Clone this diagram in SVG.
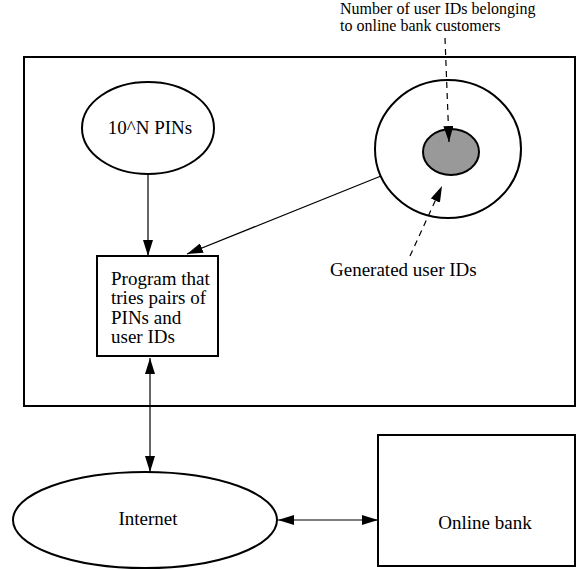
<svg xmlns="http://www.w3.org/2000/svg" width="577" height="570" viewBox="0 0 577 570">
  <style>
    .shape { fill: #fff; stroke: #000; stroke-width: 2; }
    .label { font-family: "Liberation Serif", "Times New Roman", serif; font-size: 19px; fill: #000; }
    .note { font-size: 16px; }
    .mid { text-anchor: middle; }
    .edge { fill: none; stroke: #000; stroke-width: 1.2; }
    .dash { stroke-dasharray: 6 5; }
  </style>
  <defs>
    <marker id="arrow" viewBox="0 0 16 10" refX="16" refY="5" markerWidth="16" markerHeight="10" markerUnits="userSpaceOnUse" orient="auto-start-reverse">
      <path d="M0,0 L16,5 L0,10 Z" fill="#000"/>
    </marker>
  </defs>

  <!-- attacker's machine -->
  <g id="attacker">
    <rect class="shape" x="24" y="57" width="551" height="349"/>
  </g>

  <g id="pins">
    <ellipse class="shape" cx="148" cy="128" rx="66" ry="46"/>
    <text class="label mid" x="150" y="134">10^N PINs</text>
  </g>

  <g id="generated-ids">
    <ellipse class="shape" cx="448" cy="149" rx="73" ry="69"/>
  </g>

  <g id="customer-ids">
    <ellipse cx="451" cy="152" rx="28" ry="23" fill="#999" stroke="#000" stroke-width="2"/>
  </g>

  <g id="program">
    <rect class="shape" x="97" y="256" width="121" height="100"/>
    <text class="label" x="111" y="285">Program that</text>
    <text class="label" x="111" y="304">tries pairs of</text>
    <text class="label" x="111" y="324">PINs and</text>
    <text class="label" x="111" y="343">user IDs</text>
  </g>

  <g id="internet">
    <ellipse class="shape" cx="145" cy="520" rx="132" ry="48"/>
    <text class="label mid" x="148" y="525">Internet</text>
  </g>

  <g id="bank">
    <rect class="shape" x="378" y="435" width="197" height="131"/>
    <text class="label mid" x="485" y="529">Online bank</text>
  </g>

  <g id="annotations">
    <text class="label note" x="340" y="14">Number of user IDs belonging</text>
    <text class="label note" x="340" y="31">to online bank customers</text>
    <text class="label" x="330" y="276">Generated user IDs</text>
  </g>

  <g id="connectors">
    <line class="edge" x1="148" y1="174" x2="148" y2="256" marker-end="url(#arrow)"/>
    <line class="edge" x1="381" y1="176" x2="187" y2="254" marker-end="url(#arrow)"/>
    <line class="edge" x1="150" y1="358" x2="150" y2="472" marker-start="url(#arrow)" marker-end="url(#arrow)"/>
    <line class="edge" x1="278" y1="520" x2="378" y2="520" marker-start="url(#arrow)" marker-end="url(#arrow)"/>
    <line class="edge dash" x1="445" y1="38" x2="449" y2="142" marker-end="url(#arrow)"/>
    <line class="edge dash" x1="410" y1="256" x2="442" y2="186" marker-end="url(#arrow)"/>
  </g>
</svg>
